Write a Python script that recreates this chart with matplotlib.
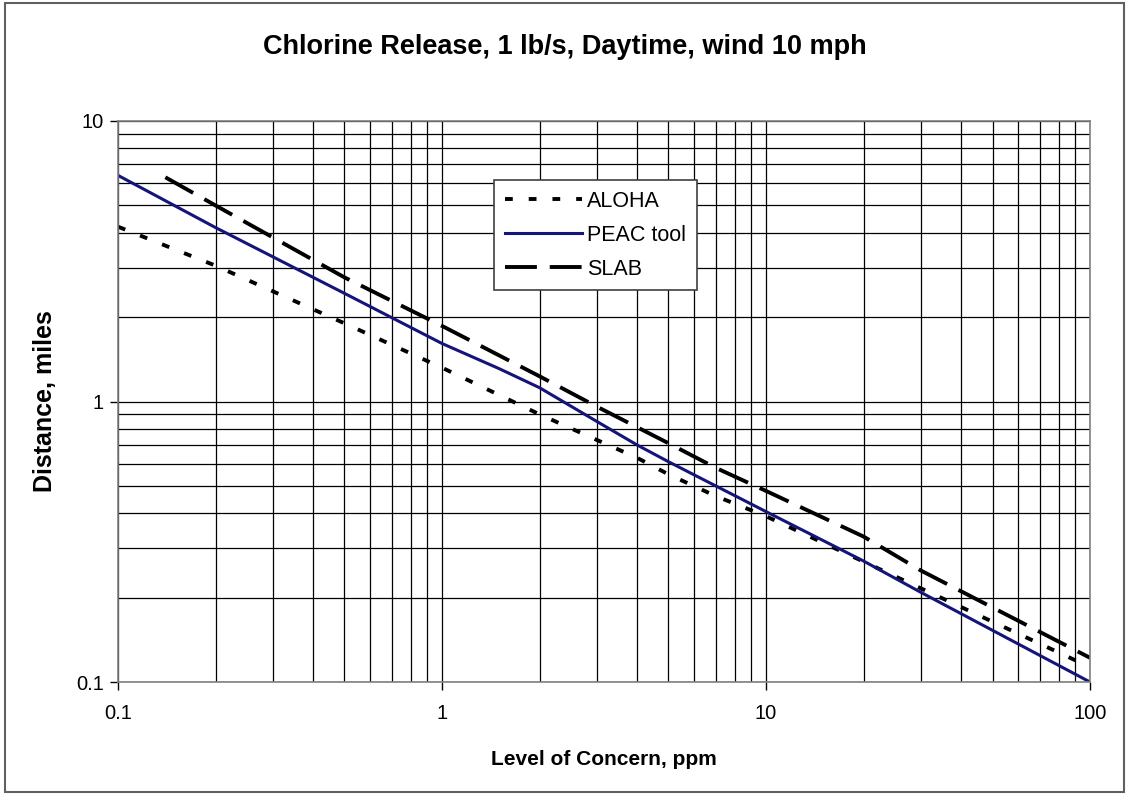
import matplotlib.pyplot as plt
from matplotlib.patches import Rectangle
from matplotlib.ticker import LogLocator, NullFormatter, FixedLocator, FixedFormatter

plt.rcParams['font.family'] = ['Liberation Sans', 'DejaVu Sans']

# Data
aloha_x = [0.1, 0.2, 0.5, 1, 2, 3, 4, 5, 7, 10, 30, 100]
aloha_y = [4.2, 3.05, 1.9, 1.32, 0.90, 0.73, 0.63, 0.55, 0.46, 0.39, 0.216, 0.113]

peac_x = [0.1, 0.2, 0.5, 1, 1.5, 2, 3, 4, 5, 7, 10, 20, 30, 100]
peac_y = [6.4, 4.17, 2.43, 1.61, 1.31, 1.12, 0.85, 0.70, 0.61, 0.50, 0.405, 0.27, 0.209, 0.10]

slab_x = [0.14, 0.2, 0.5, 1, 2, 3, 4, 5, 7, 10, 20, 30, 100]
slab_y = [6.3, 5.0, 2.77, 1.86, 1.23, 0.96, 0.81, 0.71, 0.58, 0.48, 0.33, 0.25, 0.122]

fig = plt.figure(figsize=(11.29, 7.95), dpi=100)
ax = fig.add_axes([0.1045, 0.1421, 0.861, 0.7057])

ax.plot(aloha_x, aloha_y, color='black', lw=2.8, dashes=(2.0, 4.1), label='ALOHA')
ax.plot(peac_x, peac_y, color='#14147a', lw=2.2, label='PEAC tool')
ax.plot(slab_x, slab_y, color='black', lw=2.8, dashes=(8.2, 3.3), label='SLAB')

ax.set_xscale('log')
ax.set_yscale('log')
ax.set_xlim(0.1, 100)
ax.set_ylim(0.1, 10)

ax.xaxis.set_major_locator(FixedLocator([0.1, 1, 10, 100]))
ax.xaxis.set_major_formatter(FixedFormatter(['0.1', '1', '10', '100']))
ax.yaxis.set_major_locator(FixedLocator([0.1, 1, 10]))
ax.yaxis.set_major_formatter(FixedFormatter(['0.1', '1', '10']))
for axis in (ax.xaxis, ax.yaxis):
    axis.set_minor_locator(LogLocator(base=10, subs=range(2, 10)))
    axis.set_minor_formatter(NullFormatter())

ax.grid(True, which='both', color='black', lw=0.9)
ax.tick_params(which='major', direction='out', length=6, width=1, labelsize=14.5)
ax.tick_params(axis='y', pad=4)
ax.tick_params(axis='x', pad=10)
ax.tick_params(which='minor', length=0)
for s in ax.spines.values():
    s.set_color('#808080')
    s.set_linewidth(1.2)

ax.set_xlabel('Level of Concern, ppm', fontsize=15, fontweight='bold', labelpad=19)
ax.set_ylabel('Distance, miles', fontsize=18, fontweight='bold', labelpad=14)
fig.text(0.5, 0.941, 'Chlorine Release, 1 lb/s, Daytime, wind 10 mph',
         ha='center', va='center', fontsize=19.5, fontweight='bold')

leg = ax.legend(loc='upper left', bbox_to_anchor=(0.387, 0.895), fontsize=15.5,
                frameon=True, fancybox=False, framealpha=1, edgecolor='#404040',
                handlelength=3.6, handletextpad=0.2, labelspacing=0.6,
                borderpad=0.5, borderaxespad=0)
leg.get_frame().set_linewidth(1.2)

fig.patches.append(Rectangle((0.004, 0.004), 0.992, 0.992, transform=fig.transFigure,
                             fill=False, edgecolor='#606060', lw=1.5))

fig.savefig('out.png', dpi=100)
